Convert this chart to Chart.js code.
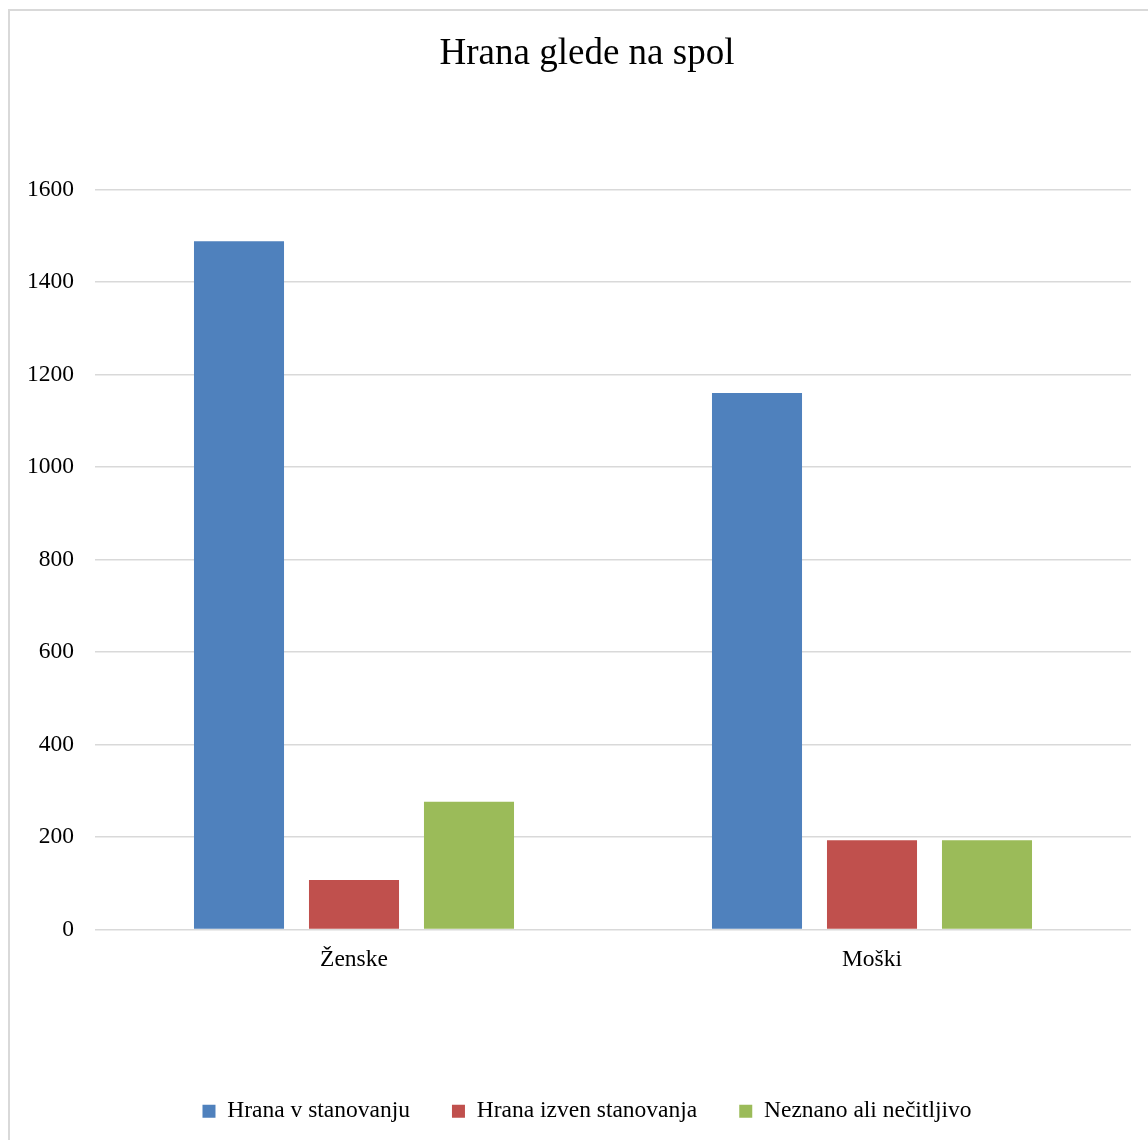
<!DOCTYPE html>
<html>
<head>
<meta charset="utf-8">
<title>Hrana glede na spol</title>
<script src="https://cdn.jsdelivr.net/npm/chart.js@4.4.1/dist/chart.umd.min.js"></script>
<style>
    html, body { margin: 0; padding: 0; background: #fff; overflow: hidden; }
    #wrap { position: relative; width: 1148px; height: 1140px; }
    #frame { position: absolute; left: 8px; top: 9px; width: 1200px; height: 1200px; border: 2px solid #d9d9d9; box-sizing: border-box; }
    canvas { position: absolute; left: 0; top: 0; }
</style>
</head>
<body>
<div id="wrap">
    <div id="frame"></div>
    <canvas id="chart" width="1148" height="1140"></canvas>
</div>
<script>
// podatki
const kategorije = ['Ženske', 'Moški'];
const hranaVStanovanju = [1488, 1160];
const hranaIzvenStanovanja = [107, 193];
const neznano = [276, 193];
const yTicks = [0, 200, 400, 600, 800, 1000, 1200, 1400, 1600];

const serif = '"Liberation Serif", "Times New Roman", serif';

document.addEventListener("DOMContentLoaded", function() {
    const ctx = document.getElementById('chart').getContext('2d');

    new Chart(ctx, {
        type: 'bar',
        data: {
            labels: kategorije,
            datasets: [
                { label: 'Hrana v stanovanju', data: hranaVStanovanju, backgroundColor: '#4F81BD' },
                { label: 'Hrana izven stanovanja', data: hranaIzvenStanovanja, backgroundColor: '#C0504D' },
                { label: 'Neznano ali nečitljivo', data: neznano, backgroundColor: '#9BBB59' }
            ]
        },
        options: {
            responsive: false,
            animation: false,
            layout: { padding: { left: 43, right: 17, top: 0, bottom: 7 } },
            datasets: {
                bar: { categoryPercentage: 0.666, barPercentage: 0.783 }
            },
            plugins: {
                title: {
                    display: true,
                    text: 'Hrana glede na spol',
                    color: '#000',
                    font: { family: serif, size: 37, weight: 'normal' },
                    padding: { top: 32, bottom: 113 }
                },
                legend: {
                    position: 'bottom',
                    labels: {
                        color: '#000',
                        font: { family: serif, size: 23.5 },
                        boxWidth: 13,
                        boxHeight: 13,
                        padding: 42
                    }
                },
                tooltip: { enabled: false }
            },
            scales: {
                x: {
                    grid: { display: false },
                    border: { display: false },
                    ticks: { color: '#000', font: { family: serif, size: 23.5 }, padding: 8 },
                    afterFit: function(scale) { scale.height = 128; }
                },
                y: {
                    min: 0,
                    max: 1600,
                    afterBuildTicks: function(scale) {
                        scale.ticks = yTicks.map(v => ({ value: v }));
                    },
                    grid: { color: '#d9d9d9', lineWidth: 1.5, drawTicks: false },
                    border: { display: false },
                    ticks: {
                        color: '#000',
                        font: { family: serif, size: 23.5 },
                        padding: 21,
                        callback: function(value) { return String(value); }
                    },
                    afterFit: function(scale) {
                        scale.width = 95 - 43;
                        // oznake segajo levo cez rob osi, zato brez rezanja
                        scale._computeLabelArea = function() { return undefined; };
                    }
                }
            }
        }
    });
});
</script>
</body>
</html>
